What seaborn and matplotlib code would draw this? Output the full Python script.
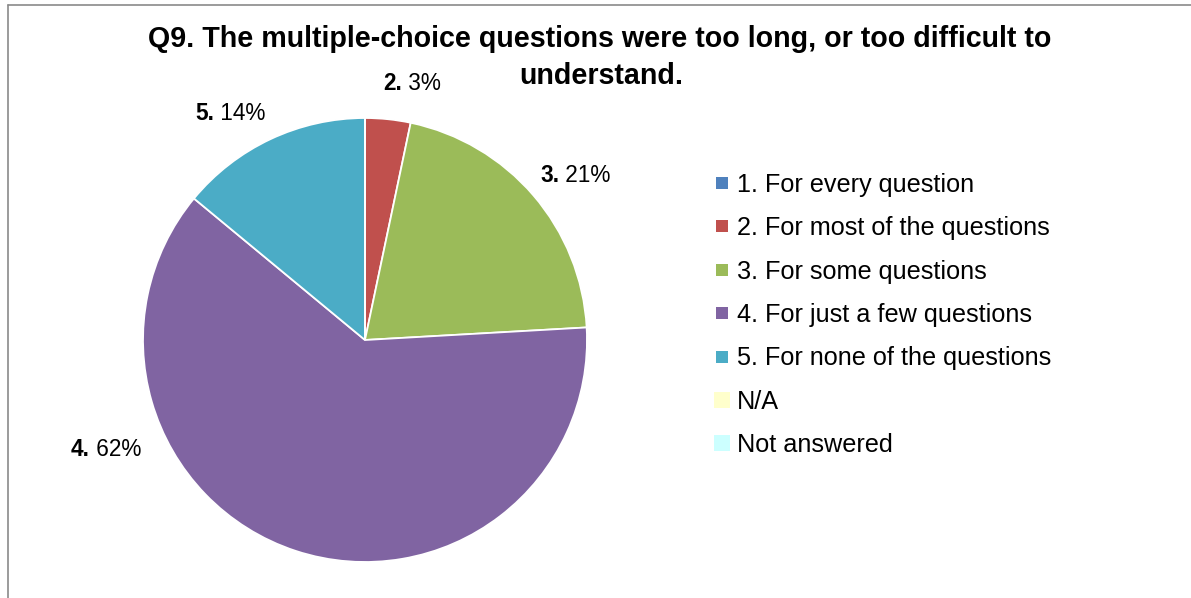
import matplotlib
matplotlib.use("Agg")
import matplotlib.pyplot as plt
import seaborn as sns
from matplotlib.lines import Line2D

# data (percent of answers)
categories = ["1. For every question", "2. For most of the questions",
              "3. For some questions", "4. For just a few questions",
              "5. For none of the questions", "N/A", "Not answered"]
short_names = ["1.", "2.", "3.", "4.", "5.", "N/A", "NA"]
values = [0, 3.3, 20.8, 61.9, 14.0, 0, 0]
colors = ["#4F81BD", "#C0504D", "#9BBB59", "#8064A2", "#4BACC6", "#FFFFCC", "#CCFFFF"]

# where Excel put the data labels (in pie radius units)
label_pos = {1: (0.165, 1.155), 2: (0.875, 0.74), 3: (-1.24, -0.495), 4: (-0.68, 1.02)}

sns.set_theme(style="white")
plt.rcParams["font.family"] = ["Liberation Sans", "DejaVu Sans"]
plt.rcParams["text.color"] = "black"

W, H = 1191, 598
fig = plt.figure(figsize=(W / 100, H / 100), dpi=100)

# pie axes: centre (365, 340) px, radius 222 px
r = 222
lim = 1.3
side = 2 * lim * r
cx, cy = 365, H - 340
ax = fig.add_axes([(cx - side / 2) / W, (cy - side / 2) / H, side / W, side / H])
wedges, _ = ax.pie(values, colors=colors, startangle=90, counterclock=False,
                   wedgeprops=dict(edgecolor="white", linewidth=1.3))
ax.set_xlim(-lim, lim)
ax.set_ylim(-lim, lim)
ax.set_aspect("equal")
ax.axis("off")

for i, (x, y) in label_pos.items():
    ax.text(x, y, short_names[i], ha="right", va="center", fontsize=16.3,
            fontweight="bold", color="black", clip_on=False)
    ax.text(x, y, " %d%%" % round(values[i]), ha="left", va="center", fontsize=16.3,
            color="black", clip_on=False)

# title
fig.text(600 / W, 1 - 39 / H, "Q9. The multiple-choice questions were too long, or too difficult to",
         ha="center", va="center", fontsize=20.6, fontweight="bold")
fig.text(601 / W, 1 - 76 / H, "understand.", ha="center", va="center", fontsize=20.6,
         fontweight="bold")

# legend
handles = []
for i, c in enumerate(colors):
    ms = 9.2 if i < 5 else 11
    handles.append(Line2D([], [], marker="s", linestyle="", markersize=ms,
                          markerfacecolor=c, markeredgewidth=0))
leg = fig.legend(handles, categories, loc="upper left",
                 bbox_to_anchor=(714 / W, 1 - 173 / H), frameon=False,
                 fontsize=18.2, handlelength=0.62, handletextpad=0.28,
                 labelspacing=0.765, borderpad=0, borderaxespad=0)

# outer chart border (left and top visible)
border = dict(color="#8a8a8a", linewidth=1.2, transform=fig.transFigure)
fig.add_artist(Line2D([7.5 / W, 7.5 / W], [0, 1 - 4.5 / H], **border))
fig.add_artist(Line2D([7.5 / W, 1], [1 - 4.5 / H, 1 - 4.5 / H], **border))

fig.savefig("out.png", dpi=100, facecolor="white")
